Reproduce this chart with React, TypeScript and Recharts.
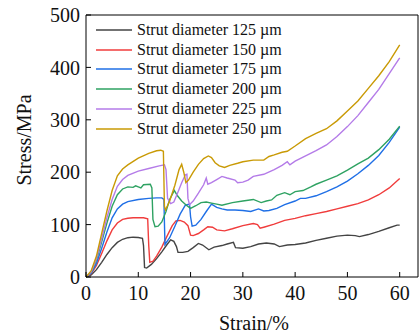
import React from 'react';
import { LineChart, Line, XAxis, YAxis, ReferenceLine } from 'recharts';

// 应力-应变曲线 (strain %, stress MPa)
const d125: [number, number][] = [
  [0, 0], [1, 4], [2, 14], [3, 28], [4, 43], [5, 56], [6, 66], [7, 72], [8, 75], [9, 76], [10, 75.5], [10.8, 74],
  [11, 60], [11.2, 18], [11.6, 17], [12.5, 24], [13.5, 35], [14.5, 48], [15.5, 62], [16.2, 71], [16.8, 68], [17.3, 58],
  [17.6, 47], [18.5, 47], [19.5, 49], [20.5, 56], [21.5, 64], [22.3, 61], [23.5, 52], [24.5, 57], [26, 60], [27, 63],
  [28.2, 66], [28.6, 56], [30, 55], [31.5, 58], [33, 63], [34.5, 65], [36, 63], [37, 58], [38.5, 61], [40, 62], [42, 65],
  [44, 70], [46, 74], [48, 78], [50, 80], [51.5, 79], [52.3, 77], [54, 81], [56, 87], [58, 94], [59.5, 99], [60, 99],
];
const d150: [number, number][] = [
  [0, 0], [1, 6], [2, 22], [3, 45], [4, 69], [5, 90], [6, 103], [7, 110], [8, 112], [9, 113], [10, 113], [11, 113],
  [11.8, 111], [12, 60], [12.2, 28], [12.8, 30], [13.5, 40], [14.5, 57], [15.5, 78], [16.5, 98], [17.2, 107], [18, 108],
  [18.8, 105], [19.5, 98], [20, 80], [20.5, 79], [21.5, 83], [22.5, 90], [23.3, 96], [24.2, 95], [25, 90], [26.5, 88],
  [28, 92], [30, 98], [32, 102], [32.8, 100], [33.3, 93], [34, 95], [36, 101], [38, 108], [40, 112], [42, 117], [44, 121],
  [46, 125], [48, 130], [50, 135], [52, 140], [54, 147], [56, 157], [58, 170], [60, 188],
];
const d175: [number, number][] = [
  [0, 0], [1, 7], [2, 26], [3, 55], [4, 86], [5, 113], [6, 130], [7, 139], [8, 144], [10, 148], [12, 150], [13.5, 151],
  [14.5, 151], [14.9, 148], [15.1, 62], [16, 75], [17, 97], [18, 120], [19, 137], [19.8, 139], [20, 115], [20.3, 97],
  [21, 99], [22, 110], [23, 125], [24, 139], [25, 133], [26, 130], [27, 128], [28.5, 128], [30, 127], [31.5, 125],
  [33, 130], [34, 126], [35, 127], [36.5, 131], [38, 138], [40, 145], [41, 150], [42, 150], [44, 155], [46, 163],
  [48, 172], [50, 183], [52, 197], [54, 213], [56, 232], [58, 257], [60, 286],
];
const d200: [number, number][] = [
  [0, 0], [1, 9], [2, 32], [3, 67], [4, 103], [5, 135], [6, 157], [7, 168], [8, 172], [9, 171], [9.5, 174], [10, 172],
  [10.5, 170], [11, 176], [12.3, 177], [12.6, 170], [12.8, 110], [13.2, 96], [13.8, 97], [14.5, 105], [15.3, 125],
  [16, 148], [16.9, 165], [17.5, 155], [18.3, 145], [19.2, 137], [20, 131], [21, 136], [22, 142], [23, 143], [24, 141],
  [25, 139], [26, 137], [28, 142], [30, 145], [32, 148], [33.5, 142], [34.5, 145], [35.5, 147], [36.5, 156], [38, 161],
  [39, 157], [40, 163], [41.5, 165], [43, 172], [44, 177], [46, 185], [48, 193], [50, 204], [52, 216], [54, 227],
  [56, 243], [58, 263], [60, 288],
];
const d225: [number, number][] = [
  [0, 0], [1, 10], [2, 35], [3, 73], [4, 113], [5, 148], [6, 173], [7, 186], [8, 194], [10, 202], [12, 207], [14, 212],
  [15, 214], [15.3, 205], [15.6, 150], [16.2, 140], [16.8, 143], [17.5, 160], [18.3, 180], [19, 195], [19.3, 196],
  [19.5, 150], [19.8, 138], [20.5, 145], [21.5, 160], [22.5, 176], [23, 189], [23.3, 177], [24, 180], [25, 186],
  [26, 192], [27, 189], [28.5, 185], [29, 180], [30, 181], [31, 185], [32, 192], [34, 196], [36, 205], [37.5, 213],
  [38.5, 220], [39, 214], [40, 221], [42, 231], [44, 241], [46, 252], [48, 268], [50, 287], [52, 308], [54, 333],
  [56, 358], [58, 388], [60, 418],
];
const d250: [number, number][] = [
  [0, 0], [1, 12], [2, 40], [3, 83], [4, 126], [5, 165], [6, 193], [7, 206], [8, 214], [10, 227], [12, 236], [13.5, 241],
  [14.3, 242], [14.8, 240], [15, 135], [15.2, 128], [16, 145], [17, 175], [17.8, 205], [18.3, 215], [18.7, 200],
  [19.1, 180], [19.6, 185], [20.5, 200], [21.5, 215], [22.5, 226], [23.4, 231], [24, 228], [24.7, 218], [25.5, 212],
  [26.5, 209], [27.5, 213], [29, 217], [30, 220], [32, 223], [34, 223], [35, 230], [36, 233], [37.5, 238], [38.5, 240],
  [40, 250], [42, 264], [44, 274], [46, 283], [48, 298], [50, 317], [52, 336], [54, 360], [56, 384], [58, 411], [60, 443],
];

const seriesNames = [
  'Strut diameter 125 µm',
  'Strut diameter 150 µm',
  'Strut diameter 175 µm',
  'Strut diameter 200 µm',
  'Strut diameter 225 µm',
  'Strut diameter 250 µm',
];
const seriesData = [d125, d150, d175, d200, d225, d250];
const colors = ['#444444', '#f03c3c', '#1f6fe6', '#2ea262', '#b47be8', '#c99a05'];

const xTicks = [0, 10, 20, 30, 40, 50, 60];
const yTicks = [0, 100, 200, 300, 400, 500];

const FONT = '"Liberation Serif", "Times New Roman", serif';

const toRows = (pts: [number, number][]) => pts.map(([x, y]) => ({ x, y }));

// 图例（放在图表外，避免压缩绘图区）
const LegendBox = () => (
  <div style={{ position: 'absolute', left: 96, top: 20, fontFamily: FONT, fontSize: 16, color: '#111' }}>
    {seriesNames.map((name, i) => (
      <div key={name} style={{ display: 'flex', alignItems: 'center', height: 19.8 }}>
        <svg width={36} height={4} style={{ marginRight: 5 }}>
          <line x1={0} y1={2} x2={36} y2={2} stroke={colors[i]} strokeWidth={1.5} />
        </svg>
        <span style={{ whiteSpace: 'nowrap' }}>{name}</span>
      </div>
    ))}
  </div>
);

export default function App() {
  return (
    <div style={{ position: 'absolute', left: 0, top: 0, width: 419, height: 336, background: '#fff' }}>
      <LineChart width={419} height={336} margin={{ top: 15, right: 1, bottom: 0, left: 0 }}>
        <XAxis
          type="number"
          dataKey="x"
          domain={[0, 63.5]}
          ticks={xTicks}
          allowDataOverflow
          height={59}
          stroke="#000"
          tickSize={-5}
          tickMargin={14}
          tick={{ fontFamily: FONT, fontSize: 20, fill: '#111' }}
          label={{
            content: () => (
              <text x={254} y={330} textAnchor="middle" fontFamily={FONT} fontSize={20} fill="#111">
                Strain/%
              </text>
            ),
          }}
        />
        <YAxis
          type="number"
          domain={[0, 500]}
          ticks={yTicks}
          width={86}
          stroke="#000"
          tickSize={-5}
          tickMargin={11}
          tick={{ fontFamily: FONT, fontSize: 20, fill: '#111' }}
          label={{
            content: () => (
              <text
                x={24}
                y={140}
                transform="rotate(-90 24 140)"
                textAnchor="middle"
                dominantBaseline="central"
                fontFamily={FONT}
                fontSize={20}
                fill="#111"
              >
                Stress/MPa
              </text>
            ),
          }}
        />
        <ReferenceLine y={500} stroke="#000" />
        <ReferenceLine x={63.5} stroke="#000" />
        {seriesData.map((pts, i) => (
          <Line
            key={seriesNames[i]}
            data={toRows(pts)}
            dataKey="y"
            name={seriesNames[i]}
            type="linear"
            stroke={colors[i]}
            strokeWidth={1.4}
            dot={false}
            isAnimationActive={false}
          />
        ))}
      </LineChart>
      <LegendBox />
    </div>
  );
}
